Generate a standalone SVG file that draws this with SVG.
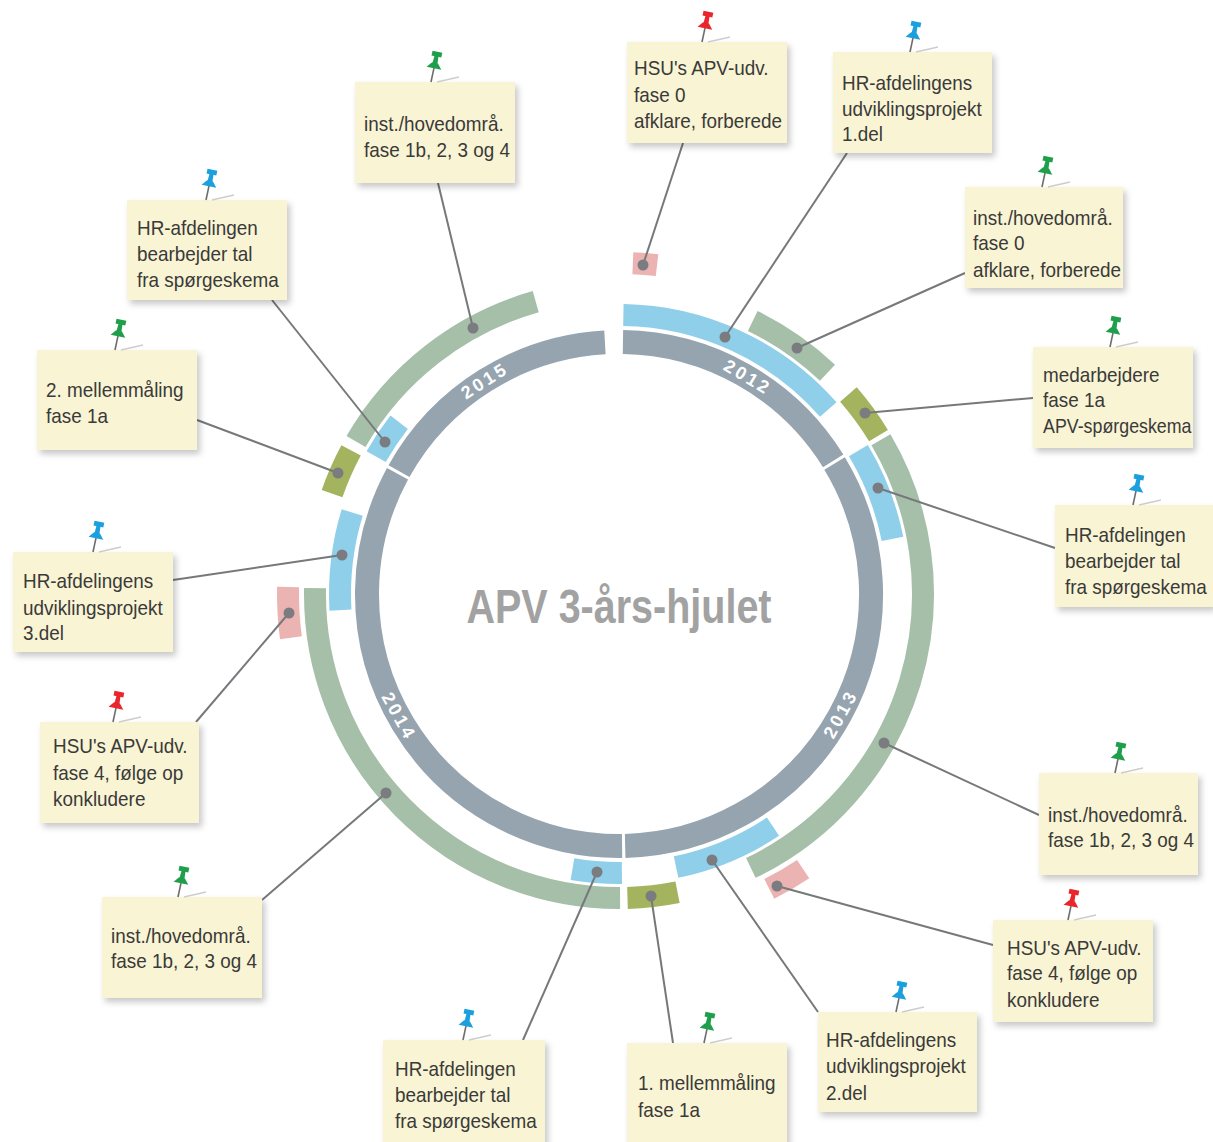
<svg xmlns="http://www.w3.org/2000/svg" xmlns:xlink="http://www.w3.org/1999/xlink" width="1213" height="1142" viewBox="0 0 1213 1142">
<style>
.ring{fill:none;stroke-linecap:butt}
.gray{stroke:#96a4af;stroke-width:24}
.blue{stroke:#8fcfea;stroke-width:22}
.green{stroke:#a5bfa9;stroke-width:22}
.olive{stroke:#a3b35e;stroke-width:22}
.pink{stroke:#ecb3b3;stroke-width:22}
.year{font-family:"Liberation Sans",Arial,sans-serif;font-weight:bold;font-size:18px;fill:#ffffff;letter-spacing:3px;text-anchor:middle;dominant-baseline:central}
.title{font-family:"Liberation Sans",Arial,sans-serif;font-weight:bold;font-size:49px;fill:#a2a2a2;text-anchor:middle}
.card{fill:#f9f4d3;filter:url(#sh)}
.lbl{font-family:"Liberation Sans",Arial,sans-serif;font-size:21px;fill:#3a3a3a}
.conn line{stroke:#77787b;stroke-width:2}
.conn circle{fill:#7b7c80}
.fold{stroke:#cdcdcd;stroke-width:1.3}
</style>
<defs>
<filter id="sh" x="-10%" y="-10%" width="130%" height="140%">
<feDropShadow dx="3" dy="4" stdDeviation="3" flood-color="#000" flood-opacity="0.22"/>
</filter>
<g id="pin">
<line x1="0" y1="0" x2="0" y2="-15" stroke="#6d6d6d" stroke-width="1.6"/>
<path d="M-7.5,-14 L7.5,-14 L3,-19.5 L-3,-19.5 Z"/>
<path d="M-2.5,-19 L2.5,-19 L2,-27 L-2,-27 Z"/>
<path d="M-5,-26 L5,-26 L5,-31 L-5,-31 Z"/>
</g>
</defs>
<rect width="1213" height="1142" fill="#ffffff"/>

<g id="wheel">
<path class="ring gray" d="M622.96,342.03 A252,252 0 0 1 833.17,460.83"/>
<path class="ring gray" d="M834.59,463.46 A252,252 0 0 1 625.16,845.92"/>
<path class="ring gray" d="M622.08,845.98 A252,252 0 0 1 397.54,473.76"/>
<path class="ring gray" d="M399.02,471.06 A252,252 0 0 1 604.93,342.39"/>
<text class="year" transform="translate(747.7,377.3) rotate(30.7)">2012</text>
<text class="year" transform="translate(840.7,713.9) rotate(-61.6)">2013</text>
<text class="year" transform="translate(398.8,716.5) rotate(60.9)">2014</text>
<text class="year" transform="translate(484.8,380.7) rotate(-32.2)">2015</text>
<text class="title" x="619" y="623" textLength="305" lengthAdjust="spacingAndGlyphs">APV 3-års-hjulet</text>
</g>

<g id="activities">
<path class="ring blue" d="M623.38,315.03 A279,279 0 0 1 828.28,409.49"/>
<path class="ring blue" d="M858.39,450.72 A279,279 0 0 1 892.50,538.85"/>
<path class="ring blue" d="M772.99,826.66 A279,279 0 0 1 676.06,867.10"/>
<path class="ring blue" d="M621.92,872.99 A279,279 0 0 1 572.47,869.09"/>
<path class="ring blue" d="M340.46,610.06 A279,279 0 0 1 352.19,512.43"/>
<path class="ring blue" d="M376.17,456.61 A279,279 0 0 1 399.15,422.23"/>
<path class="ring green" d="M752.74,321.00 A304,304 0 0 1 827.50,372.77"/>
<path class="ring olive" d="M848.43,394.56 A304,304 0 0 1 878.50,435.61"/>
<path class="ring green" d="M880.94,439.71 A304,304 0 0 1 750.83,867.93"/>
<path class="ring olive" d="M677.53,892.31 A304,304 0 0 1 627.49,897.88"/>
<path class="ring green" d="M620.06,898.00 A304,304 0 0 1 315.06,588.16"/>
<path class="ring olive" d="M332.08,493.52 A304,304 0 0 1 351.08,450.34"/>
<path class="ring green" d="M355.99,441.54 A304,304 0 0 1 535.72,301.63"/>
<path class="ring pink" d="M632.86,263.29 A331,331 0 0 1 657.05,265.19"/>
<path class="ring pink" d="M803.14,869.05 A331,331 0 0 1 769.27,888.92"/>
<path class="ring pink" d="M290.91,637.78 A331,331 0 0 1 288.07,587.07"/>
</g>

<g id="connectors" class="conn">
<line x1="683" y1="143" x2="643" y2="265"/><circle cx="643" cy="265" r="5.5"/>
<line x1="847" y1="153" x2="725" y2="337"/><circle cx="725" cy="337" r="5.5"/>
<line x1="965" y1="273" x2="797" y2="348"/><circle cx="797" cy="348" r="5.5"/>
<line x1="1033" y1="398" x2="865" y2="413"/><circle cx="865" cy="413" r="5.5"/>
<line x1="1055" y1="548" x2="878" y2="488"/><circle cx="878" cy="488" r="5.5"/>
<line x1="1039" y1="815" x2="884" y2="743"/><circle cx="884" cy="743" r="5.5"/>
<line x1="993" y1="945" x2="777" y2="886"/><circle cx="777" cy="886" r="5.5"/>
<line x1="818" y1="1012" x2="712" y2="860"/><circle cx="712" cy="860" r="5.5"/>
<line x1="673" y1="1043" x2="651" y2="896"/><circle cx="651" cy="896" r="5.5"/>
<line x1="523" y1="1040" x2="597" y2="872"/><circle cx="597" cy="872" r="5.5"/>
<line x1="262" y1="900" x2="386" y2="793"/><circle cx="386" cy="793" r="5.5"/>
<line x1="196" y1="722" x2="289" y2="613"/><circle cx="289" cy="613" r="5.5"/>
<line x1="173" y1="580" x2="342" y2="555"/><circle cx="342" cy="555" r="5.5"/>
<line x1="197" y1="420" x2="338" y2="473"/><circle cx="338" cy="473" r="5.5"/>
<line x1="272" y1="300" x2="385" y2="442"/><circle cx="385" cy="442" r="5.5"/>
<line x1="438" y1="183" x2="473" y2="328"/><circle cx="473" cy="328" r="5.5"/>
</g>

<g id="card-hsu-fase0">
<rect class="card" x="627" y="42" width="160" height="101"/>
<line class="fold" x1="708" y1="42" x2="730" y2="37"/>
<use href="#pin" fill="#e8262b" transform="translate(702,42) rotate(12)"/>
<g transform="translate(634,0) scale(0.9,1)">
<text class="lbl" x="0" y="75">HSU's APV-udv.</text>
<text class="lbl" x="0" y="102">fase 0</text>
<text class="lbl" x="0" y="128">afklare, forberede</text>
</g>
</g>

<g id="card-hr-udv1">
<rect class="card" x="833" y="52" width="159" height="101"/>
<line class="fold" x1="916" y1="52" x2="938" y2="47"/>
<use href="#pin" fill="#1ba0dd" transform="translate(910,52) rotate(12)"/>
<g transform="translate(842,0) scale(0.9,1)">
<text class="lbl" x="0" y="90">HR-afdelingens</text>
<text class="lbl" x="0" y="116">udviklingsprojekt</text>
<text class="lbl" x="0" y="141">1.del</text>
</g>
</g>

<g id="card-inst-fase0">
<rect class="card" x="965" y="187" width="158" height="101"/>
<line class="fold" x1="1048" y1="187" x2="1070" y2="182"/>
<use href="#pin" fill="#1f9f4b" transform="translate(1042,187) rotate(12)"/>
<g transform="translate(973,0) scale(0.9,1)">
<text class="lbl" x="0" y="225">inst./hovedområ.</text>
<text class="lbl" x="0" y="250">fase 0</text>
<text class="lbl" x="0" y="277">afklare, forberede</text>
</g>
</g>

<g id="card-medarbejdere">
<rect class="card" x="1033" y="347" width="160" height="101"/>
<line class="fold" x1="1116" y1="347" x2="1138" y2="342"/>
<use href="#pin" fill="#1f9f4b" transform="translate(1110,347) rotate(12)"/>
<g transform="translate(1043,0) scale(0.9,1)">
<text class="lbl" x="0" y="382">medarbejdere</text>
<text class="lbl" x="0" y="407">fase 1a</text>
<text class="lbl" x="0" y="433" textLength="165" lengthAdjust="spacingAndGlyphs">APV-spørgeskema</text>
</g>
</g>

<g id="card-hr-bearbejder-2013">
<rect class="card" x="1055" y="505" width="158" height="102"/>
<line class="fold" x1="1139" y1="505" x2="1161" y2="500"/>
<use href="#pin" fill="#1ba0dd" transform="translate(1133,505) rotate(12)"/>
<g transform="translate(1065,0) scale(0.9,1)">
<text class="lbl" x="0" y="542">HR-afdelingen</text>
<text class="lbl" x="0" y="568">bearbejder tal</text>
<text class="lbl" x="0" y="594">fra spørgeskema</text>
</g>
</g>

<g id="card-inst-2013">
<rect class="card" x="1039" y="773" width="159" height="102"/>
<line class="fold" x1="1121" y1="773" x2="1143" y2="768"/>
<use href="#pin" fill="#1f9f4b" transform="translate(1115,773) rotate(12)"/>
<g transform="translate(1048,0) scale(0.9,1)">
<text class="lbl" x="0" y="822">inst./hovedområ.</text>
<text class="lbl" x="0" y="847">fase 1b, 2, 3 og 4</text>
</g>
</g>

<g id="card-hsu-fase4-2013">
<rect class="card" x="993" y="920" width="160" height="102"/>
<line class="fold" x1="1074" y1="920" x2="1096" y2="915"/>
<use href="#pin" fill="#e8262b" transform="translate(1068,920) rotate(12)"/>
<g transform="translate(1007,0) scale(0.9,1)">
<text class="lbl" x="0" y="955">HSU's APV-udv.</text>
<text class="lbl" x="0" y="980">fase 4, følge op</text>
<text class="lbl" x="0" y="1007">konkludere</text>
</g>
</g>

<g id="card-hr-udv2">
<rect class="card" x="818" y="1012" width="159" height="100"/>
<line class="fold" x1="902" y1="1012" x2="924" y2="1007"/>
<use href="#pin" fill="#1ba0dd" transform="translate(896,1012) rotate(12)"/>
<g transform="translate(826,0) scale(0.9,1)">
<text class="lbl" x="0" y="1047">HR-afdelingens</text>
<text class="lbl" x="0" y="1073">udviklingsprojekt</text>
<text class="lbl" x="0" y="1100">2.del</text>
</g>
</g>

<g id="card-mellem1">
<rect class="card" x="627" y="1043" width="160" height="102"/>
<line class="fold" x1="710" y1="1043" x2="732" y2="1038"/>
<use href="#pin" fill="#1f9f4b" transform="translate(704,1043) rotate(12)"/>
<g transform="translate(638,0) scale(0.9,1)">
<text class="lbl" x="0" y="1090">1. mellemmåling</text>
<text class="lbl" x="0" y="1117">fase 1a</text>
</g>
</g>

<g id="card-hr-bearbejder-2014">
<rect class="card" x="383" y="1040" width="162" height="105"/>
<line class="fold" x1="469" y1="1040" x2="491" y2="1035"/>
<use href="#pin" fill="#1ba0dd" transform="translate(463,1040) rotate(12)"/>
<g transform="translate(395,0) scale(0.9,1)">
<text class="lbl" x="0" y="1076">HR-afdelingen</text>
<text class="lbl" x="0" y="1102">bearbejder tal</text>
<text class="lbl" x="0" y="1128">fra spørgeskema</text>
</g>
</g>

<g id="card-inst-2014">
<rect class="card" x="102" y="897" width="160" height="101"/>
<line class="fold" x1="184" y1="897" x2="206" y2="892"/>
<use href="#pin" fill="#1f9f4b" transform="translate(178,897) rotate(12)"/>
<g transform="translate(111,0) scale(0.9,1)">
<text class="lbl" x="0" y="943">inst./hovedområ.</text>
<text class="lbl" x="0" y="968">fase 1b, 2, 3 og 4</text>
</g>
</g>

<g id="card-hsu-fase4-2014">
<rect class="card" x="40" y="722" width="159" height="101"/>
<line class="fold" x1="119" y1="722" x2="141" y2="717"/>
<use href="#pin" fill="#e8262b" transform="translate(113,722) rotate(12)"/>
<g transform="translate(53,0) scale(0.9,1)">
<text class="lbl" x="0" y="753">HSU's APV-udv.</text>
<text class="lbl" x="0" y="780">fase 4, følge op</text>
<text class="lbl" x="0" y="806">konkludere</text>
</g>
</g>

<g id="card-hr-udv3">
<rect class="card" x="13" y="552" width="160" height="100"/>
<line class="fold" x1="99" y1="552" x2="121" y2="547"/>
<use href="#pin" fill="#1ba0dd" transform="translate(93,552) rotate(12)"/>
<g transform="translate(23,0) scale(0.9,1)">
<text class="lbl" x="0" y="588">HR-afdelingens</text>
<text class="lbl" x="0" y="615">udviklingsprojekt</text>
<text class="lbl" x="0" y="640">3.del</text>
</g>
</g>

<g id="card-mellem2">
<rect class="card" x="37" y="350" width="160" height="100"/>
<line class="fold" x1="121" y1="350" x2="143" y2="345"/>
<use href="#pin" fill="#1f9f4b" transform="translate(115,350) rotate(12)"/>
<g transform="translate(46,0) scale(0.9,1)">
<text class="lbl" x="0" y="397">2. mellemmåling</text>
<text class="lbl" x="0" y="423">fase 1a</text>
</g>
</g>

<g id="card-hr-bearbejder-2015">
<rect class="card" x="127" y="200" width="160" height="100"/>
<line class="fold" x1="212" y1="200" x2="234" y2="195"/>
<use href="#pin" fill="#1ba0dd" transform="translate(206,200) rotate(12)"/>
<g transform="translate(137,0) scale(0.9,1)">
<text class="lbl" x="0" y="235">HR-afdelingen</text>
<text class="lbl" x="0" y="261">bearbejder tal</text>
<text class="lbl" x="0" y="287">fra spørgeskema</text>
</g>
</g>

<g id="card-inst-2015">
<rect class="card" x="355" y="82" width="160" height="101"/>
<line class="fold" x1="437" y1="82" x2="459" y2="77"/>
<use href="#pin" fill="#1f9f4b" transform="translate(431,82) rotate(12)"/>
<g transform="translate(364,0) scale(0.9,1)">
<text class="lbl" x="0" y="131">inst./hovedområ.</text>
<text class="lbl" x="0" y="157">fase 1b, 2, 3 og 4</text>
</g>
</g>
</svg>
